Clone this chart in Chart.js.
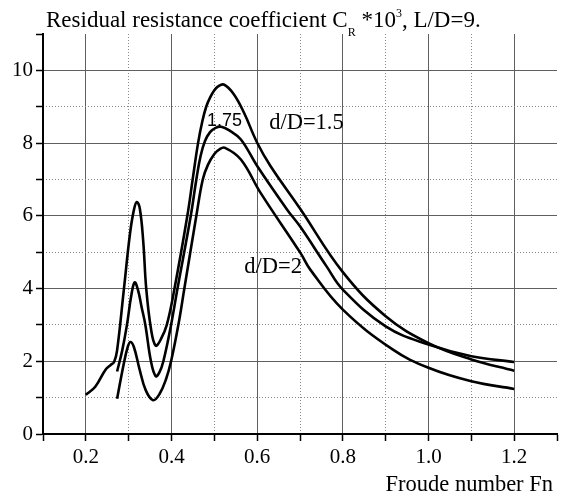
<!DOCTYPE html>
<html>
<head>
<meta charset="utf-8">
<script src="https://cdn.jsdelivr.net/npm/chart.js@4/dist/chart.umd.min.js"></script>
<style>
  html, body { margin: 0; padding: 0; background: #fff; }
  #wrap { width: 561px; height: 499px; position: relative; }
</style>
</head>
<body>
<div id="wrap"><canvas id="chart"></canvas></div>
<script>
// Froude number values and C_R*10^3, one pair of arrays per curve
const fn15 = [0.2, 0.222, 0.246, 0.258, 0.266, 0.273, 0.289, 0.303, 0.312, 0.319, 0.326, 0.334, 0.341, 0.352, 0.363, 0.375, 0.389, 0.407, 0.437, 0.45, 0.462, 0.472, 0.481, 0.49, 0.5, 0.508, 0.522, 0.545, 0.569, 0.6, 0.631, 0.7, 0.8, 0.9, 1.0, 1.1, 1.2];
const cr15 = [1.08, 1.3, 1.77, 1.9, 1.98, 2.3, 4.0, 5.5, 6.15, 6.38, 6.2, 5.3, 4.0, 2.9, 2.43, 2.6, 3.0, 4.0, 6.0, 7.05, 8.0, 8.6, 9.0, 9.25, 9.45, 9.55, 9.61, 9.35, 8.84, 8.01, 7.37, 6.2, 4.45, 3.24, 2.5, 2.05, 1.74];

const fn175 = [0.273, 0.285, 0.296, 0.306, 0.314, 0.322, 0.33, 0.339, 0.352, 0.363, 0.372, 0.381, 0.399, 0.414, 0.445, 0.458, 0.468, 0.478, 0.49, 0.503, 0.516, 0.535, 0.562, 0.6, 0.67, 0.7, 0.762, 0.8, 0.9, 1.0, 1.1, 1.2];
const cr175 = [1.72, 2.3, 3.0, 3.8, 4.17, 3.95, 3.5, 3.0, 2.0, 1.59, 1.7, 2.0, 3.0, 4.0, 6.0, 7.0, 7.65, 8.05, 8.3, 8.42, 8.45, 8.35, 8.1, 7.37, 6.17, 5.71, 4.61, 3.97, 2.96, 2.46, 2.14, 1.98];

const fn2 = [0.273, 0.288, 0.298, 0.304, 0.312, 0.325, 0.34, 0.357, 0.372, 0.387, 0.399, 0.416, 0.43, 0.458, 0.473, 0.485, 0.5, 0.512, 0.525, 0.562, 0.608, 0.701, 0.724, 0.8, 0.917, 1.0, 1.1, 1.2];
const cr2 = [0.97, 1.9, 2.4, 2.53, 2.4, 1.8, 1.2, 0.93, 1.1, 1.5, 2.0, 3.0, 4.0, 6.0, 7.0, 7.4, 7.7, 7.83, 7.87, 7.55, 6.63, 4.98, 4.52, 3.42, 2.32, 1.82, 1.45, 1.24];

// curve labels: text, Fn, C_R, alignment
const curveLabels = [
    { text: '1.75', x: 0.524, y: 8.62, font: '18px "Liberation Sans"', align: 'center' },
    { text: 'd/D=1.5', x: 0.628, y: 8.56, font: '22.5px "Liberation Serif"', align: 'left' },
    { text: 'd/D=2', x: 0.570, y: 4.58, font: '22.5px "Liberation Serif"', align: 'left' }
];

const xMin = 0.1, xMax = 1.3, yMin = 0, yMax = 11;
const serif = '"Liberation Serif", "Times New Roman", serif';

function toPoints(xs, ys) {
    return xs.map((x, i) => ({ x: x, y: ys[i] }));
}

function curve(xs, ys) {
    return {
        data: toPoints(xs, ys),
        borderColor: '#000',
        borderWidth: 2.6,
        pointRadius: 0,
        fill: false,
        showLine: true,
        tension: 0.4
    };
}

const isEven = v => Math.round(v * 10) % 2 === 0;

// title, axis title and curve labels
const textPlugin = {
    id: 'texts',
    afterDraw(chart) {
        const ctx = chart.ctx;
        const xs = chart.scales.x, ys = chart.scales.y;
        ctx.save();
        ctx.fillStyle = '#000';
        ctx.textBaseline = 'middle';
        curveLabels.forEach(l => {
            ctx.font = l.font;
            ctx.textAlign = l.align;
            ctx.fillText(l.text, xs.getPixelForValue(l.x), ys.getPixelForValue(l.y));
        });

        // title with sub/superscript
        ctx.textBaseline = 'alphabetic';
        ctx.textAlign = 'left';
        let x = 46, base = 27;
        const big = '23px ' + serif, small = '12px ' + serif;
        const parts = [
            ['Residual resistance coefficient C', big, 0],
            ['R', small, 9],
            [' *10', big, 0],
            ['3', small, -10],
            [', L/D=9.', big, 0]
        ];
        parts.forEach(p => {
            ctx.font = p[1];
            ctx.fillText(p[0], x, base + p[2]);
            x += ctx.measureText(p[0]).width;
        });

        ctx.font = '22.5px ' + serif;
        ctx.textAlign = 'right';
        ctx.fillText('Froude number Fn', 553, 491);
        ctx.restore();
    }
};

new Chart(document.getElementById('chart'), {
    type: 'scatter',
    data: {
        datasets: [curve(fn15, cr15), curve(fn175, cr175), curve(fn2, cr2)]
    },
    plugins: [textPlugin],
    options: {
        responsive: true,
        maintainAspectRatio: false,
        animation: false,
        layout: { padding: { top: 34, right: 0, bottom: 0, left: 0 } },
        plugins: {
            legend: { display: false },
            tooltip: { enabled: false },
            title: { display: false }
        },
        scales: {
            x: {
                type: 'linear',
                min: xMin,
                max: xMax,
                afterFit: s => { s.height = 65; },
                ticks: {
                    stepSize: 0.1,
                    autoSkip: false,
                    maxRotation: 0,
                    padding: 4,
                    color: '#000',
                    font: { family: serif, size: 21 },
                    callback: v => isEven(v) ? v.toFixed(1) : ''
                },
                grid: {
                    color: c => (isEven(c.tick.value) && c.tick.value > 0.15 && c.tick.value < 1.25) ? '#606060' : 'rgba(0,0,0,0)',
                    lineWidth: 1,
                    tickColor: '#000',
                    tickLength: 7,
                    tickWidth: 1.5
                },
                border: { color: '#000', width: 2 }
            },
            x2: {
                type: 'linear',
                position: 'bottom',
                min: xMin,
                max: xMax,
                afterFit: s => { s.height = 0; },
                ticks: { display: false, stepSize: 0.1, autoSkip: false },
                grid: {
                    drawTicks: false,
                    color: c => (!isEven(c.tick.value) && c.tick.value > 0.15 && c.tick.value < 1.25) ? '#888' : 'rgba(0,0,0,0)',
                    lineWidth: 1
                },
                border: { display: false, dash: [1, 2] }
            },
            y: {
                type: 'linear',
                min: yMin,
                max: yMax,
                afterFit: s => { s.width = 43; },
                ticks: {
                    stepSize: 1,
                    autoSkip: false,
                    padding: 3,
                    color: '#000',
                    font: { family: serif, size: 21 },
                    callback: v => (v % 2 === 0 && v <= 10) ? String(v) : ''
                },
                grid: {
                    color: c => (c.tick.value % 2 === 0 && c.tick.value > 0 && c.tick.value <= 10) ? '#606060' : 'rgba(0,0,0,0)',
                    lineWidth: 1,
                    tickColor: '#000',
                    tickLength: 7,
                    tickWidth: 1.5
                },
                border: { color: '#000', width: 2 }
            },
            y2: {
                type: 'linear',
                position: 'left',
                min: yMin,
                max: yMax,
                afterFit: s => { s.width = 0; },
                ticks: { display: false, stepSize: 1, autoSkip: false },
                grid: {
                    drawTicks: false,
                    color: c => (c.tick.value % 2 === 1 && c.tick.value < 10) ? '#888' : 'rgba(0,0,0,0)',
                    lineWidth: 1
                },
                border: { display: false, dash: [1, 2] }
            }
        }
    }
});
</script>
</body>
</html>
